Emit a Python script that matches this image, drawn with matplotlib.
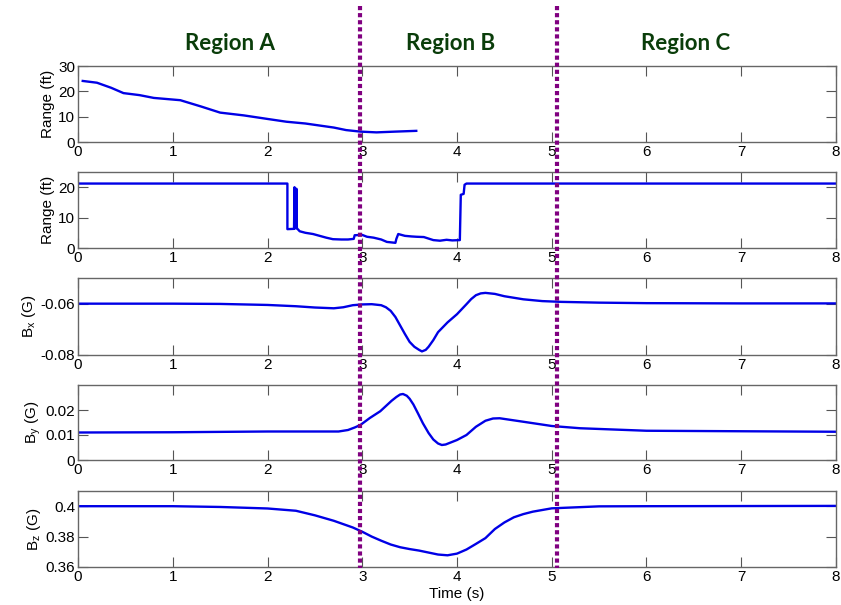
import matplotlib.pyplot as plt
from matplotlib.lines import Line2D
from matplotlib.transforms import blended_transform_factory

# range measured by the first sensor (ft), only logged until ~3.6 s
t_range1 = [0.05, 0.2, 0.35, 0.48, 0.65, 0.8, 1.08, 1.3, 1.5, 1.75, 2.0, 2.2,
            2.4, 2.55, 2.7, 2.83, 2.98, 3.15, 3.35, 3.57]
range1 = [24.1, 23.4, 21.4, 19.3, 18.5, 17.4, 16.5, 14.0, 11.6, 10.5, 9.1, 8.0,
          7.3, 6.5, 5.7, 4.7, 4.1, 3.8, 4.1, 4.4]

# range measured by the second sensor (ft), saturates at ~21 ft
t_range2 = [0.0, 2.21, 2.21, 2.28, 2.285, 2.29, 2.30, 2.305, 2.31, 2.34, 2.40,
            2.48, 2.55, 2.62, 2.69, 2.78, 2.85, 2.91, 2.92, 3.0, 3.05, 3.12,
            3.2, 3.26, 3.35, 3.36, 3.38, 3.45, 3.52, 3.57, 3.65, 3.75, 3.82,
            3.89, 3.95, 4.03, 4.04, 4.07, 4.08, 4.10, 8.0]
range2 = [21.2, 21.2, 6.2, 6.3, 20.0, 6.5, 6.5, 19.5, 6.5, 5.5, 5.0,
          4.6, 4.0, 3.4, 2.9, 2.8, 2.8, 3.0, 4.2, 4.3, 3.7, 3.4,
          2.8, 2.0, 1.7, 3.0, 4.6, 4.0, 3.8, 3.7, 3.6, 2.6, 2.4,
          2.7, 2.5, 2.6, 17.5, 17.8, 20.8, 21.2, 21.2]

# magnetometer components (G)
t_bx = [0.0, 1.0, 1.5, 2.0, 2.3, 2.5, 2.7, 2.8, 2.9, 3.0, 3.1, 3.2, 3.25, 3.3,
        3.35, 3.4, 3.45, 3.5, 3.55, 3.6, 3.63, 3.67, 3.7, 3.75, 3.8, 3.9, 4.0,
        4.1, 4.15, 4.2, 4.25, 4.3, 4.4, 4.5, 4.7, 4.9, 5.1, 5.5, 6.0, 7.0, 8.0]
bx = [-0.0600, -0.0600, -0.0601, -0.0605, -0.0610, -0.0615, -0.0618, -0.0614,
      -0.0606, -0.0603, -0.0602, -0.0606, -0.0614, -0.0628, -0.0652, -0.0685,
      -0.0718, -0.0749, -0.0768, -0.0780, -0.0786, -0.0780, -0.0768, -0.0742,
      -0.0711, -0.0673, -0.0641, -0.0602, -0.0582, -0.0567, -0.0560, -0.0558,
      -0.0562, -0.0571, -0.0583, -0.0590, -0.0593, -0.0596, -0.0598, -0.0599,
      -0.0599]

t_by = [0.0, 1.0, 2.0, 2.75, 2.85, 2.92, 2.98, 3.08, 3.19, 3.31, 3.36, 3.40,
        3.43, 3.47, 3.50, 3.54, 3.59, 3.64, 3.70, 3.75, 3.80, 3.84, 3.88,
        3.92, 4.0, 4.1, 4.2, 4.3, 4.38, 4.45, 4.7, 5.0, 5.3, 6.0, 7.0, 8.0]
by = [0.0110, 0.0111, 0.0114, 0.0114, 0.0120, 0.0130, 0.0140, 0.0168, 0.0195,
      0.0237, 0.0252, 0.0262, 0.0264, 0.0257, 0.0245, 0.0222, 0.0185, 0.0147,
      0.0108, 0.0082, 0.0066, 0.0060, 0.0062, 0.0068, 0.0080, 0.0100, 0.0133,
      0.0157, 0.0166, 0.0167, 0.0153, 0.0136, 0.0127, 0.0117, 0.0115, 0.0113]

t_bz = [0.0, 1.0, 1.5, 2.0, 2.3, 2.5, 2.7, 2.9, 3.0, 3.1, 3.2, 3.3, 3.4, 3.5,
        3.6, 3.7, 3.8, 3.9, 4.0, 4.1, 4.2, 4.3, 4.4, 4.5, 4.6, 4.7, 4.8,
        5.0, 5.5, 6.0, 7.0, 8.0]
bz = [0.400, 0.400, 0.3995, 0.3985, 0.397, 0.394, 0.3904, 0.386, 0.3832,
      0.3800, 0.3773, 0.3748, 0.3730, 0.3718, 0.3708, 0.3695, 0.3682, 0.3677,
      0.3688, 0.3715, 0.3752, 0.3790, 0.3850, 0.3893, 0.3927, 0.3948, 0.3964,
      0.3986, 0.3999, 0.400, 0.4001, 0.4002]

# region boundaries (s) and names
boundaries = [2.98, 5.06]
region_names = ['Region A', 'Region B', 'Region C']
region_x = [230, 451, 686]

plt.rcParams['font.family'] = ['Liberation Sans', 'DejaVu Sans']
plt.rcParams['font.size'] = 11

W, H = 841, 605
fig = plt.figure(figsize=(W / 100, H / 100), dpi=100)

# panel rows as (top, bottom) in pixels
rows = [(66, 142), (172, 248), (278, 355), (385, 460), (491, 567)]
x0, x1 = 78, 836

panels = [
    (t_range1, range1, (0, 30), [0, 10, 20, 30], ['0', '10', '20', '30'], 'Range (ft)'),
    (t_range2, range2, (0, 25), [0, 10, 20], ['0', '10', '20'], 'Range (ft)'),
    (t_bx, bx, (-0.08, -0.05), [-0.08, -0.06], ['-0.08', '-0.06'], r'B$_\mathregular{x}$ (G)'),
    (t_by, by, (0, 0.03), [0, 0.01, 0.02], ['0', '0.01', '0.02'], r'B$_\mathregular{y}$ (G)'),
    (t_bz, bz, (0.36, 0.41), [0.36, 0.38, 0.40], ['0.36', '0.38', '0.4'], r'B$_\mathregular{z}$ (G)'),
]

axes = []
for (top, bot), (t, v, ylim, yt, ytl, ylab) in zip(rows, panels):
    ax = fig.add_axes([x0 / W, 1 - bot / H, (x1 - x0) / W, (bot - top) / H])
    ax.plot(t, v, color='#0000e6', lw=1.7)
    ax.set_xlim(0, 8)
    ax.set_ylim(*ylim)
    ax.set_xticks(range(9))
    ax.set_yticks(yt)
    ax.set_yticklabels(ytl)
    ax.set_ylabel(ylab, labelpad=2)
    ax.tick_params(direction='in', top=True, right=True, length=7,
                   color='#555555', labelsize=11, pad=2)
    for s in ax.spines.values():
        s.set_color('#666666')
        s.set_linewidth(1.0)
    axes.append(ax)

axes[-1].set_xlabel('Time (s)', labelpad=2)

# dotted region boundaries running across all panels
tr = blended_transform_factory(axes[-1].transData, fig.transFigure)
for b in boundaries:
    fig.add_artist(Line2D([b, b], [1 - 6 / H, 1 - 568 / H], transform=tr,
                          color='#800080', lw=3, ls=(0, (1, 0.7)), zorder=10))

for name, x in zip(region_names, region_x):
    fig.text(x / W, 1 - 43 / H, name, ha='center', va='center',
             fontsize=16, fontweight='bold', color='#0a3d0a', family='Lato')

fig.savefig('out.png', dpi=100)
